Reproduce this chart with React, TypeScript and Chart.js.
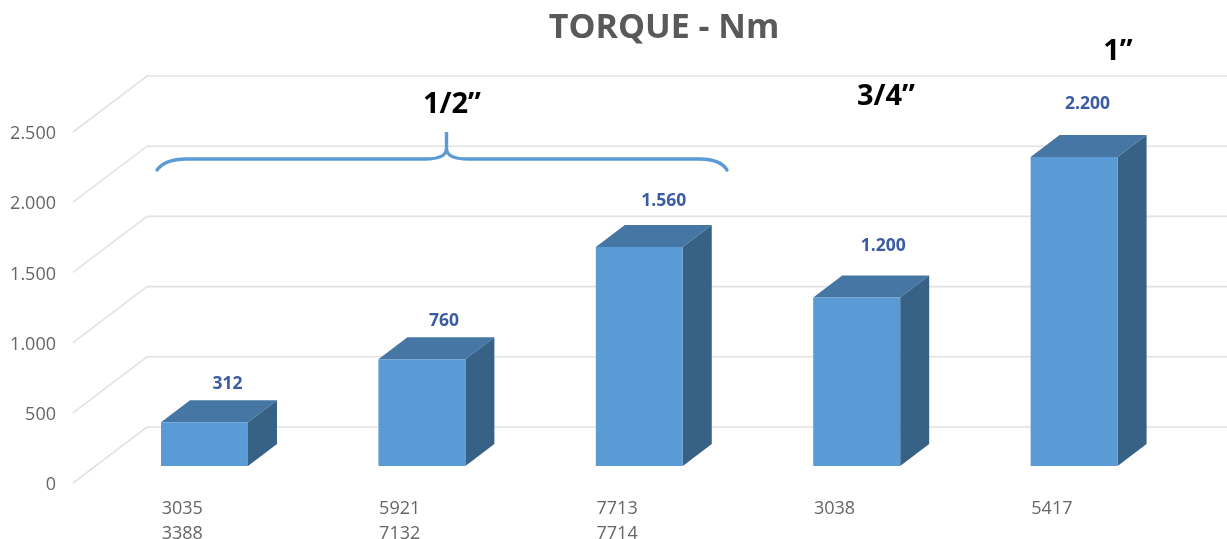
import React, { useEffect, useRef } from "react";
import { Chart, registerables } from "chart.js";

Chart.register(...registerables);

const categories = [["3035", "3388"], ["5921", "7132"], ["7713", "7714"], ["3038"], ["5417"]];
const torque = [312, 760, 1560, 1200, 2200];
const labelShiftX = [23, 22, 24.5, 26.5, 13.5];
const labelLift = [38, 38, 46, 52, 53];
const titleText = "TORQUE - Nm";
const groupNotes = [
  { text: "1/2”", x: 452, y: 105 },
  { text: "3/4”", x: 886, y: 97 },
  { text: "1”", x: 1118, y: 52 },
];

const fmt = (v: number) => String(v).replace(/\B(?=(\d{3})+$)/g, ".");
const FONT = '"Open Sans", sans-serif';
const GRID = "#E2E2E2";
const FRONT = "#5B9BD5";
const TOP = "#4676A3";
const SIDE = "#376286";
const DEPTH_X = 74, DEPTH_Y = 56;      // wall depth
const BAR_X = 22.8, BAR_Y = 17;        // bar offset from the front plane
const BAR_DX = 29, BAR_DY = 22;        // bar depth
const Y_LABEL_NUDGE = 2;

const scene = {
  id: "scene",
  beforeDraw(chart: any) {
    // the reference's value-axis labels sit slightly below their gridline ends
    chart.scales.y.getLabelItems().forEach((item: any) => {
      if (!item.options.nudged) {
        item.options.translation = [item.options.translation[0], item.options.translation[1] + Y_LABEL_NUDGE];
        item.options.nudged = true;
      }
    });
  },
  beforeDatasetsDraw(chart: any) {
    const { ctx, scales: { y }, chartArea, width } = chart;
    ctx.save();
    ctx.strokeStyle = GRID;
    ctx.lineWidth = 1.6;
    y.ticks.forEach((t: any) => {
      const py = y.getPixelForValue(t.value);
      ctx.beginPath();
      ctx.moveTo(chartArea.left, py);
      ctx.lineTo(chartArea.left + DEPTH_X, py - DEPTH_Y);
      ctx.lineTo(width, py - DEPTH_Y);
      ctx.stroke();
    });
    ctx.restore();

    // bars' top and side faces, from the library's bar geometry
    ctx.save();
    ctx.translate(BAR_X, -BAR_Y);
    chart.getDatasetMeta(0).data.forEach((b: any) => {
      const l = b.x - b.width / 2, r = b.x + b.width / 2;
      ctx.fillStyle = TOP;
      ctx.beginPath();
      ctx.moveTo(l, b.y);
      ctx.lineTo(l + BAR_DX, b.y - BAR_DY);
      ctx.lineTo(r + BAR_DX, b.y - BAR_DY);
      ctx.lineTo(r, b.y);
      ctx.closePath();
      ctx.fill();
      ctx.fillStyle = SIDE;
      ctx.beginPath();
      ctx.moveTo(r, b.y);
      ctx.lineTo(r + BAR_DX, b.y - BAR_DY);
      ctx.lineTo(r + BAR_DX, b.base - BAR_DY);
      ctx.lineTo(r, b.base);
      ctx.closePath();
      ctx.fill();
    });
    ctx.restore();

    // front faces are drawn by the library in this shifted frame
    ctx.save();
    ctx.translate(BAR_X, -BAR_Y);
  },
  afterDatasetsDraw(chart: any) {
    const { ctx } = chart;
    ctx.restore();

    // value labels
    ctx.save();
    ctx.fillStyle = "#3B5CA3";
    ctx.font = `bold 17.5px ${FONT}`;
    ctx.textAlign = "center";
    ctx.textBaseline = "middle";
    chart.getDatasetMeta(0).data.forEach((b: any, i: number) => {
      ctx.fillText(fmt(torque[i]), b.x + BAR_X + labelShiftX[i], b.y - BAR_Y - labelLift[i]);
    });

    // title
    ctx.fillStyle = "#595959";
    ctx.font = `bold 34px ${FONT}`;
    ctx.fillText(titleText, 664, 28);

    // group notes
    ctx.fillStyle = "#000000";
    ctx.font = `bold 29px ${FONT}`;
    groupNotes.forEach((n) => ctx.fillText(n.text, n.x, n.y));

    // brace
    ctx.strokeStyle = FRONT;
    ctx.lineWidth = 3.4;
    ctx.lineCap = "round";
    ctx.beginPath();
    ctx.moveTo(157, 170);
    ctx.bezierCurveTo(163, 162, 172, 159, 186, 159);
    ctx.lineTo(425, 159);
    ctx.bezierCurveTo(437, 159, 446, 156, 446.5, 149);
    ctx.lineTo(446.5, 132);
    ctx.lineTo(446.5, 149);
    ctx.bezierCurveTo(447, 156, 456, 159, 468, 159);
    ctx.lineTo(700, 159);
    ctx.bezierCurveTo(712, 159, 722, 162, 727, 170);
    ctx.stroke();
    ctx.restore();
  },
};

export default function App() {
  const ref = useRef<HTMLCanvasElement>(null);
  useEffect(() => {
    document.body.style.margin = "0";
    const chart = new Chart(ref.current!, {
      type: "bar",
      data: {
        labels: categories as any,
        datasets: [{
          data: torque,
          backgroundColor: FRONT,
          barPercentage: 0.4,
          categoryPercentage: 1,
          clip: false as any,
        }],
      },
      options: {
        responsive: false,
        animation: false,
        layout: { padding: { left: 0, right: 67, top: 132, bottom: 0 } },
        plugins: { legend: { display: false }, title: { display: false }, tooltip: { enabled: false } },
        scales: {
          x: {
            grid: { display: false, drawTicks: false },
            border: { display: false },
            afterFit: (s: any) => { s.height = 56; },
            ticks: {
              align: "start",
              labelOffset: -20,
              padding: 13,
              maxRotation: 0,
              color: "#666666",
              font: { family: FONT, size: 18, lineHeight: 1.39 },
            },
          },
          y: {
            min: 0,
            max: 2500,
            grid: { display: false, drawTicks: false },
            border: { display: false },
            afterFit: (s: any) => { s.width = 73; },
            ticks: {
              stepSize: 500,
              padding: 17,
              color: "#666666",
              font: { family: FONT, size: 18 },
              callback: (v: any) => fmt(Number(v)),
            },
          },
        },
      },
      plugins: [scene],
    });
    return () => chart.destroy();
  }, []);
  return <canvas ref={ref} width={1227} height={539} style={{ display: "block" }} />;
}
